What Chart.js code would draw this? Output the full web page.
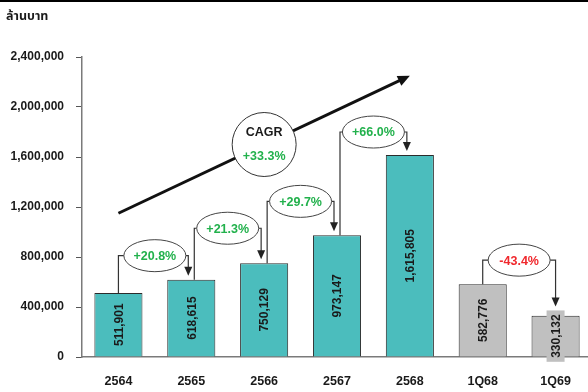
<!DOCTYPE html>
<html>
<head>
<meta charset="utf-8">
<script src="https://cdn.jsdelivr.net/npm/chart.js@4.4.0/dist/chart.umd.min.js"></script>
<style>
  html, body { margin: 0; padding: 0; background: #fff; overflow: hidden; }
  .top-rule { position: absolute; left: 0; top: 0; width: 100%; height: 2px; background: #000; z-index: 2; }
  .chart-box { position: absolute; left: 0; top: 0; width: 592px; height: 392px; }
</style>
</head>
<body>
<div class="top-rule"></div>
<div class="chart-box"><canvas id="revenueChart"></canvas></div>
<script>
// Revenue (million baht), yearly and first quarter
const categories = ['2564', '2565', '2566', '2567', '2568', '1Q68', '1Q69'];
const revenue = [511901, 618615, 750129, 973147, 1615805, 582776, 330132];

// Growth bubbles between pairs of bars
const growthFrom = [0, 1, 2, 3, 5];
const growthText = ['+20.8%', '+21.3%', '+29.7%', '+66.0%', '-43.4%'];

const cagrText = '+33.3%';
const yMax = 2400000;
const yStep = 400000;

const TEAL = '#4bbdbd';
const GREY = '#c0c0c0';
const GREEN = '#22b14c';
const RED = '#f0282d';
const FONT = '"Liberation Sans", Arial, sans-serif';

const barColors = categories.map(c => c.startsWith('1Q') ? GREY : TEAL);

// filled triangle pointing down, tip at (x, tipY)
function arrowHead(ctx, x, tipY, w, h) {
    ctx.beginPath();
    ctx.moveTo(x - w / 2, tipY - h);
    ctx.lineTo(x + w / 2, tipY - h);
    ctx.lineTo(x, tipY);
    ctx.closePath();
    ctx.fill();
}

// Value labels written vertically inside each bar
const barLabels = {
    id: 'barLabels',
    afterDatasetsDraw(chart) {
        const ctx = chart.ctx;
        const meta = chart.getDatasetMeta(0);
        ctx.save();
        ctx.font = 'bold 12px ' + FONT;
        meta.data.forEach((bar, i) => {
            const text = revenue[i].toLocaleString('en-US');
            const tw = ctx.measureText(text).width;
            const h = bar.base - bar.y;
            const cy = (bar.y + bar.base) / 2;
            // short bar: give the label its own box so it stays readable
            if (tw + 6 > h) {
                ctx.fillStyle = barColors[i];
                ctx.fillRect(bar.x - 9, cy - tw / 2 - 4, 18, tw + 8);
                bar.$labelTop = cy - tw / 2 - 4;
            }
            ctx.save();
            ctx.translate(bar.x, cy);
            ctx.rotate(-Math.PI / 2);
            ctx.fillStyle = '#1a1a1a';
            ctx.textAlign = 'center';
            ctx.textBaseline = 'middle';
            ctx.fillText(text, 0, 1);
            ctx.restore();
        });
        ctx.restore();
    }
};

// Growth bubbles, connectors and the CAGR trend arrow
const growthNotes = {
    id: 'growthNotes',
    afterDatasetsDraw(chart, args, opts) {
        const ctx = chart.ctx;
        const x = chart.scales.x;
        const y = chart.scales.y;
        const bars = chart.getDatasetMeta(0).data;
        ctx.save();

        // unit caption
        ctx.fillStyle = '#1a1a1a';
        ctx.font = 'bold 12.5px "Noto Sans Thai", "Noto Sans", "DejaVu Sans", sans-serif';
        ctx.textBaseline = 'middle';
        ctx.fillText('ล้านบาท', 6, 17);

        // trend arrow
        const x0 = x.getPixelForValue(0), y0 = y.getPixelForValue(opts.trendFrom);
        const x1 = x.getPixelForValue(4), y1 = y.getPixelForValue(opts.trendTo);
        const ang = Math.atan2(y1 - y0, x1 - x0);
        ctx.strokeStyle = '#111';
        ctx.fillStyle = '#111';
        ctx.lineWidth = 3;
        ctx.beginPath();
        ctx.moveTo(x0, y0);
        ctx.lineTo(x1 - Math.cos(ang) * 8, y1 - Math.sin(ang) * 8);
        ctx.stroke();
        ctx.save();
        ctx.translate(x1, y1);
        ctx.rotate(ang - Math.PI / 2);
        arrowHead(ctx, 0, 0, 11, 12);
        ctx.restore();

        const ccx = x.getPixelForValue(2), ccy = y.getPixelForValue(opts.cagrAt);
        ctx.beginPath();
        ctx.arc(ccx, ccy, 32, 0, Math.PI * 2);
        ctx.fillStyle = '#fff';
        ctx.fill();
        ctx.lineWidth = 1;
        ctx.strokeStyle = '#333';
        ctx.stroke();
        ctx.textAlign = 'center';
        ctx.font = 'bold 12.5px ' + FONT;
        ctx.fillStyle = '#1a1a1a';
        ctx.fillText('CAGR', ccx, ccy - 12);
        ctx.fillStyle = GREEN;
        ctx.fillText(cagrText, ccx, ccy + 12);

        // bubbles between consecutive bars
        const rx = 31, ry = 16;
        growthFrom.forEach((from, k) => {
            const a = bars[from], b = bars[from + 1];
            const cx = (a.x + b.x) / 2;
            const cy = Math.min(a.y, b.y) - opts.lift[k];
            const lx = a.x + opts.leftShift[k];
            const rxLine = b.x - opts.rightShift[k];
            const tip = Math.min(b.y, b.$labelTop ?? b.y) - 4;

            ctx.strokeStyle = '#333';
            ctx.fillStyle = '#222';
            ctx.lineWidth = 1.2;
            ctx.beginPath();
            ctx.moveTo(lx, a.y);
            ctx.lineTo(lx, cy);
            ctx.lineTo(cx - rx, cy);
            ctx.moveTo(cx + rx, cy);
            ctx.lineTo(rxLine, cy);
            ctx.lineTo(rxLine, tip - 7);
            ctx.stroke();
            arrowHead(ctx, rxLine, tip, 8, 9);

            ctx.beginPath();
            ctx.ellipse(cx, cy, rx, ry, 0, 0, Math.PI * 2);
            ctx.fillStyle = '#fff';
            ctx.fill();
            ctx.lineWidth = 1;
            ctx.strokeStyle = '#444';
            ctx.stroke();

            const txt = growthText[k];
            ctx.fillStyle = txt.startsWith('-') ? RED : GREEN;
            ctx.font = 'bold 12.5px ' + FONT;
            ctx.textAlign = 'center';
            ctx.textBaseline = 'middle';
            ctx.fillText(txt, cx, cy + 1);
        });
        ctx.restore();
    }
};

const ctx = document.getElementById('revenueChart').getContext('2d');
const chart = new Chart(ctx, {
    type: 'bar',
    data: {
        labels: categories,
        datasets: [{
            data: revenue,
            backgroundColor: barColors,
            borderColor: '#2b2b2b',
            borderWidth: 1,
            borderSkipped: 'bottom',
            barPercentage: 0.66,
            categoryPercentage: 1
        }]
    },
    options: {
        responsive: true,
        maintainAspectRatio: false,
        animation: false,
        events: [],
        layout: { padding: { top: 57, left: 0, right: 0, bottom: 0 } },
        plugins: {
            legend: { display: false },
            tooltip: { enabled: false },
            growthNotes: {
                lift: [24, 35, 34, 23, 24],
                leftShift: [0, 3, 3, 3, 0],
                rightShift: [3, 3, 3, 3, 0],
                trendFrom: 1150000,
                trendTo: 2250000,
                cagrAt: 1700000
            }
        },
        scales: {
            x: {
                grid: { display: false, drawTicks: false },
                border: { display: true, color: '#7a7a7a', width: 1.5 },
                ticks: {
                    padding: 17,
                    color: '#1a1a1a',
                    font: { family: FONT, size: 12.5, weight: 'bold' }
                },
                afterFit: scale => { scale.height = 35; }
            },
            y: {
                min: 0,
                max: yMax,
                ticks: {
                    stepSize: yStep,
                    padding: 12,
                    color: '#1a1a1a',
                    font: { family: FONT, size: 12, weight: 'bold' },
                    callback: v => v.toLocaleString('en-US')
                },
                grid: { drawOnChartArea: false, drawTicks: true, tickLength: 6, color: '#555', lineWidth: 1 },
                border: { display: true, color: '#7a7a7a', width: 1.5 },
                afterFit: scale => { scale.width = 82; }
            }
        }
    },
    plugins: [barLabels, growthNotes]
});
</script>
</body>
</html>
